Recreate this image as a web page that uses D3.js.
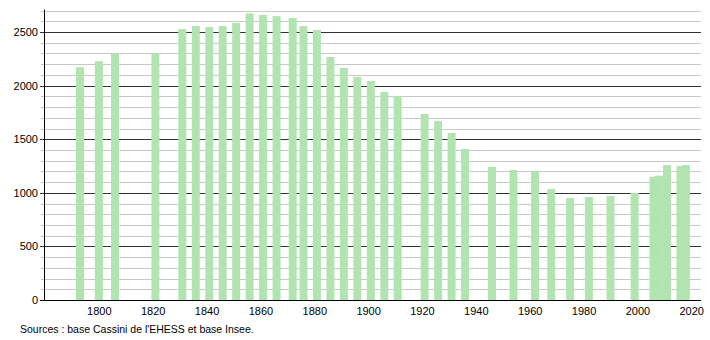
<!DOCTYPE html>
<html>
<head>
<meta charset="utf-8">
<script src="https://cdn.jsdelivr.net/npm/d3@7"></script>
<style>
  body { margin: 0; background: #fff; }
  svg text { font-family: "Liberation Sans", Arial, sans-serif; fill: #000; }
</style>
</head>
<body>
<div id="chart"></div>
<script>
// années de recensement
var years = [1793, 1800, 1806, 1821, 1831, 1836, 1841, 1846, 1851, 1856, 1861, 1866,
  1872, 1876, 1881, 1886, 1891, 1896, 1901, 1906, 1911, 1921, 1926, 1931, 1936,
  1946, 1954, 1962, 1968, 1975, 1982, 1990, 1999, 2006, 2008, 2011, 2016, 2018];
// population
var population = [2173, 2229, 2301, 2301, 2528, 2556, 2547, 2556, 2584, 2674, 2659, 2649,
  2631, 2556, 2519, 2267, 2164, 2080, 2043, 1940, 1903, 1735, 1670, 1558, 1409,
  1241, 1213, 1203, 1035, 951, 961, 970, 998, 1150, 1160, 1259, 1250, 1259];
var yTicks = [0, 500, 1000, 1500, 2000, 2500];
var xTicks = [1800, 1820, 1840, 1860, 1880, 1900, 1920, 1940, 1960, 1980, 2000, 2020];
var source = "Sources : base Cassini de l'EHESS et base Insee.";

var width = 710, height = 340;
var plotLeft = 44, plotRight = 702, plotTop = 10.6, plotBottom = 300;

var svg = d3.select("#chart").append("svg").attr("width", width).attr("height", height);

var x = d3.scaleLinear().domain([1780, 2024]).range([plotLeft + 1, plotRight]);
var y = d3.scaleLinear().domain([0, 2700]).range([plotBottom, plotTop]);

// grille secondaire (tous les 100)
var minor = d3.range(100, 2701, 100).filter(function(v) { return v % 500 != 0; });
svg.append("g")
  .selectAll("line")
  .data(minor)
  .enter()
  .append("line")
  .attr("x1", plotLeft - 3).attr("x2", 701)
  .attr("y1", function(d) { return Math.round(y(d)) + 0.5; })
  .attr("y2", function(d) { return Math.round(y(d)) + 0.5; })
  .attr("stroke", "#c8c8c8")
  .attr("stroke-width", 1);

// grille principale
svg.append("g")
  .selectAll("line")
  .data(yTicks.slice(1))
  .enter()
  .append("line")
  .attr("x1", plotLeft - 4).attr("x2", 701)
  .attr("y1", function(d) { return Math.round(y(d)) + 0.5; })
  .attr("y2", function(d) { return Math.round(y(d)) + 0.5; })
  .attr("stroke", "#333")
  .attr("stroke-width", 1);

// barres
svg.append("g")
  .selectAll("rect")
  .data(years)
  .enter()
  .append("rect")
  .attr("x", function(d) { return x(d - 1.48); })
  .attr("width", function(d) { return x(d + 1.48) - x(d - 1.48); })
  .attr("y", function(d, i) { return y(population[i]); })
  .attr("height", function(d, i) { return plotBottom - y(population[i]); })
  .attr("fill", "#b2e4b2");

// axe Y
var yAxis = svg.append("g")
  .attr("transform", "translate(" + plotLeft + ",0)")
  .call(d3.axisLeft(y).tickValues(yTicks).tickFormat(d3.format("d")).tickSize(0).tickPadding(6));
yAxis.select(".domain").remove();
yAxis.selectAll("text").attr("font-size", 11).style("font-family", "Liberation Sans, Arial, sans-serif");

svg.append("line")
  .attr("x1", plotLeft + 0.5).attr("x2", plotLeft + 0.5)
  .attr("y1", plotTop - 1).attr("y2", plotBottom)
  .attr("stroke", "#000");

// axe X
var xAxis = svg.append("g")
  .attr("transform", "translate(0," + plotBottom + ")")
  .call(d3.axisBottom(x).tickValues(xTicks).tickFormat(d3.format("d")).tickSize(0).tickPadding(7));
xAxis.select(".domain").remove();
xAxis.selectAll("text").attr("font-size", 11).style("font-family", "Liberation Sans, Arial, sans-serif");

svg.append("line")
  .attr("x1", plotLeft - 4).attr("x2", 701)
  .attr("y1", plotBottom + 0.5).attr("y2", plotBottom + 0.5)
  .attr("stroke", "#000");

svg.append("text")
  .attr("x", 20).attr("y", 333)
  .attr("font-size", 10.5)
  .text(source);
</script>
</body>
</html>
